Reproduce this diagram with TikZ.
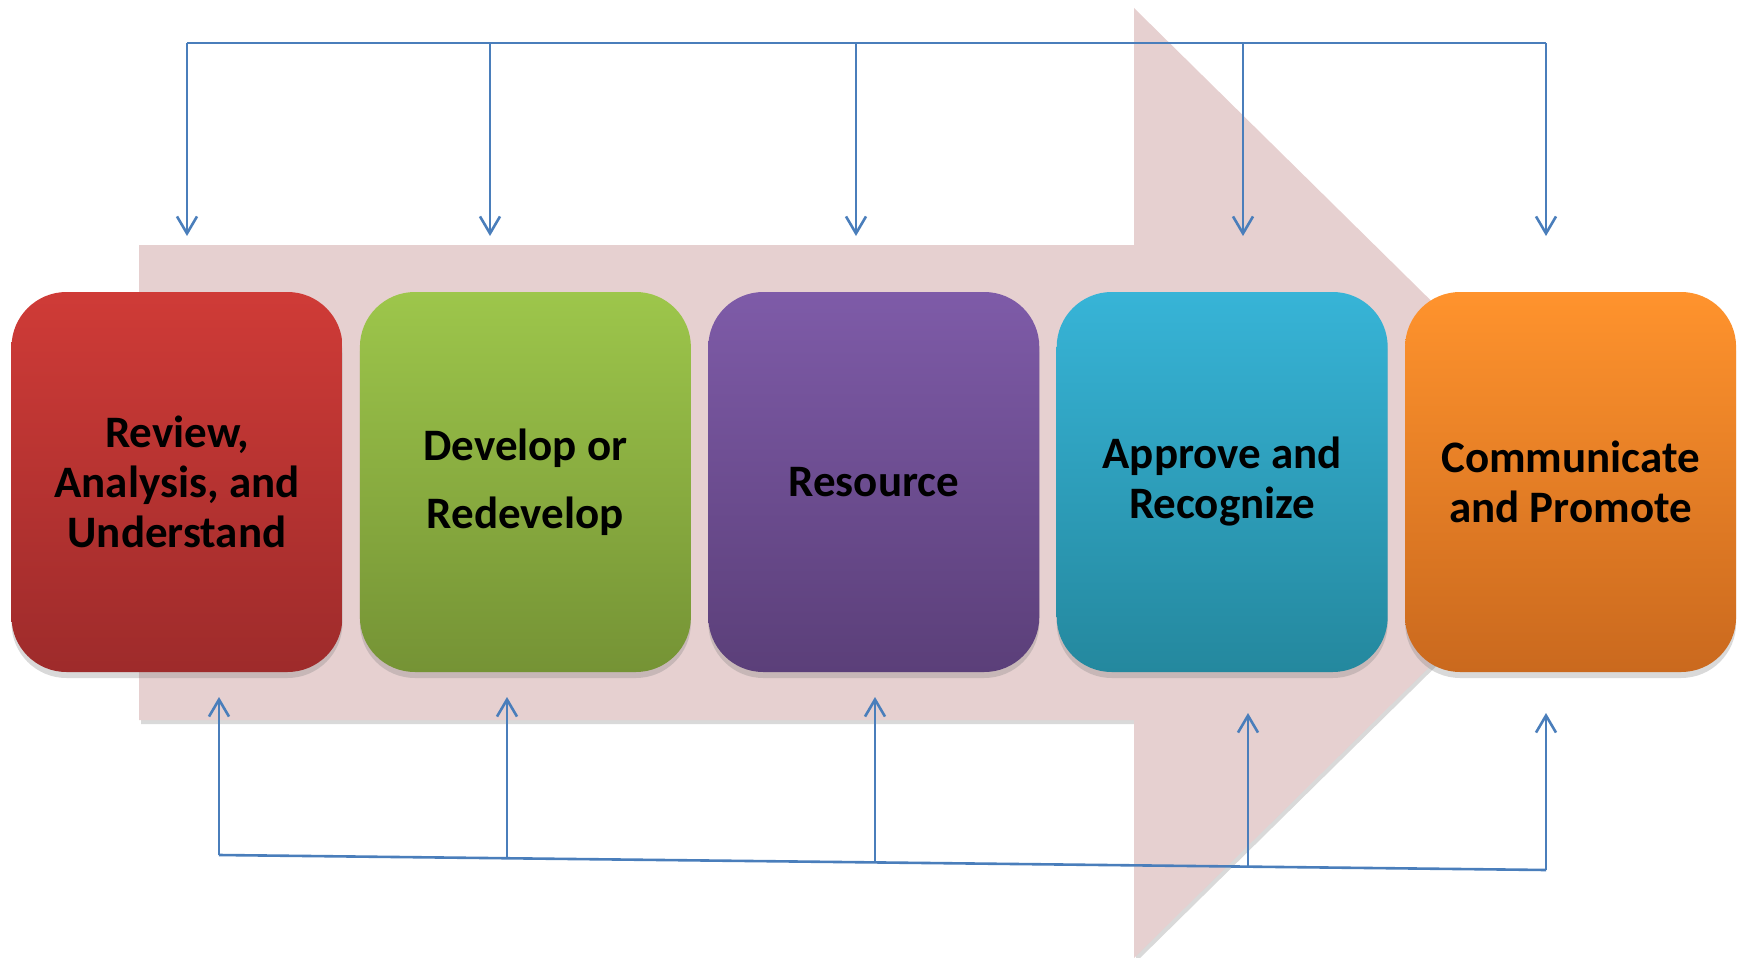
\documentclass[tikz,border=0pt]{standalone}
\usepackage{fontspec}
\setmainfont{Carlito}
\usetikzlibrary{positioning,shadows,arrows.meta}

\definecolor{arrowpink}{HTML}{E6D0D0}
\definecolor{linkblue}{HTML}{4A7EBB}
\definecolor{redtop}{HTML}{CF3B37}
\definecolor{redbot}{HTML}{9E2B2B}
\definecolor{greentop}{HTML}{9DC64B}
\definecolor{greenbot}{HTML}{759335}
\definecolor{purpletop}{HTML}{7E5BA8}
\definecolor{purplebot}{HTML}{5B3F79}
\definecolor{cyantop}{HTML}{37B4D7}
\definecolor{cyanbot}{HTML}{24889E}
\definecolor{orangetop}{HTML}{FF932D}
\definecolor{orangebot}{HTML}{CA691E}

\begin{document}
\begin{tikzpicture}[x=1pt, y=-1pt,
  stage/.style={rounded corners=55pt, minimum width=331pt, minimum height=380pt, inner sep=0pt, align=center,
    font=\fontsize{45}{50}\selectfont\bfseries,
    drop shadow={shadow xshift=0pt, shadow yshift=-6pt, opacity=0.3}},
  link/.style={-{Straight Barb[length=17pt,width=20pt,line width=2.6pt]}, linkblue, line width=2.6pt},
  rail/.style={linkblue, line width=2.6pt}]

  \useasboundingbox (0,0) rectangle (1743,958);

  % big background arrow
  \fill[arrowpink, drop shadow={shadow xshift=2pt, shadow yshift=-4pt, opacity=0.3}]
    (139,245) -- (1134,245) -- (1134,8) -- (1616,483) -- (1134,958) -- (1134,720) -- (139,720) -- cycle;

  % stages
  \node[stage, top color=redtop, bottom color=redbot] (review) at (177,482) {Review,\\Analysis, and\\Understand};
  \node[stage, top color=greentop, bottom color=greenbot] (develop) [right = 17pt of review] {Develop or\\[18pt]Redevelop};
  \node[stage, top color=purpletop, bottom color=purplebot] (resource) [right = 17pt of develop] {Resource};
  \node[stage, top color=cyantop, bottom color=cyanbot] (approve) [right = 17pt of resource] {Approve and\\Recognize};
  \node[stage, top color=orangetop, bottom color=orangebot] (promote) [right = 17pt of approve] {Communicate\\and Promote};

  % top feedback rail
  \coordinate (t1) at (187,43);   \coordinate (a1) at (187,236);
  \coordinate (t2) at (490,43);   \coordinate (a2) at (490,236);
  \coordinate (t3) at (856,43);   \coordinate (a3) at (856,236);
  \coordinate (t4) at (1243,43);  \coordinate (a4) at (1243,236);
  \coordinate (t5) at (1546,43);  \coordinate (a5) at (1546,236);

  % bottom feedback rail
  \coordinate (b1) at (219,855);    \coordinate (c1) at (219,697);
  \coordinate (b2) at (507,858.3);  \coordinate (c2) at (507,697);
  \coordinate (b3) at (875,862.4);  \coordinate (c3) at (875,697);
  \coordinate (b4) at (1248,866.6); \coordinate (c4) at (1248,713);
  \coordinate (b5) at (1546,870);   \coordinate (c5) at (1546,713);

  \draw[rail] (t1) -- (t5);
  \draw[rail] (b1) -- (b5);
  \foreach \i in {1,...,5}{
    \draw[link] (t\i) -- (a\i);
    \draw[link] (b\i) -- (c\i);
  }
\end{tikzpicture}
\end{document}
